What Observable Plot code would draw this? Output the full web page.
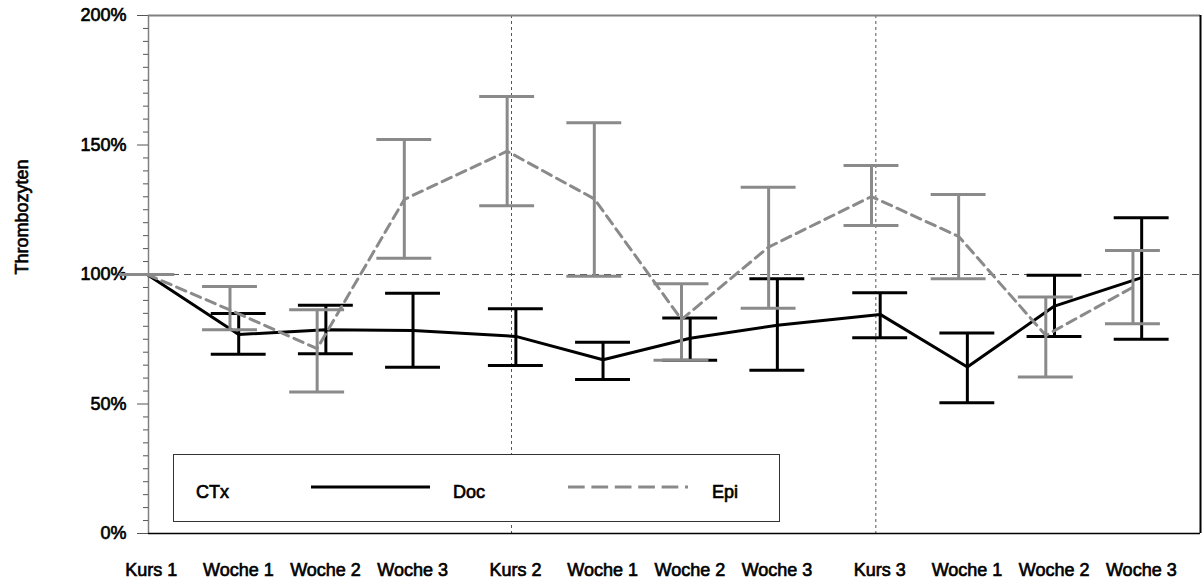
<!DOCTYPE html>
<html><head><meta charset="utf-8">
<script src="https://cdn.jsdelivr.net/npm/d3@7"></script>
<script src="https://cdn.jsdelivr.net/npm/@observablehq/plot@0.6"></script>
<style>
body{margin:0;background:#fff;}
#wrap{position:relative;width:1202px;height:587px;}
#wrap text{font-family:"Liberation Sans",Arial,sans-serif;stroke:#000;stroke-width:0.65px;}
#legend{position:absolute;left:173px;top:454px;}
</style></head><body><div id="wrap"></div>
<script>
// ---- data ----
const categories = ["Kurs 1","Woche 1","Woche 2","Woche 3","Kurs 2","Woche 1","Woche 2","Woche 3","Kurs 3","Woche 1","Woche 2","Woche 3"];
const seriesNames = ["Doc","Epi"];
const legendTitle = "CTx";
const yLabel = "Thrombozyten";
const yTicks = [0, 50, 100, 150, 200];
const docMean = [100, 76.8, 78.7, 78.4, 76.1, 67.1, 75.4, 80.4, 84.6, 64.3, 87.8, 98.8];
const docLow  = [null, 69.2, 69.4, 64.2, 64.9, 59.5, 66.9, 63.0, 75.6, 50.5, 76.1, 75.0];
const docHigh = [null, 84.9, 88.1, 92.8, 86.8, 73.8, 83.2, 98.4, 93.0, 77.4, 99.7, 121.9];
const epiMean = [100, 86.3, 71.4, 129.0, 147.6, 129.2, 82.6, 110.6, 130.1, 114.7, 76.5, 95.1];
const epiLow  = [100, 78.7, 54.6, 106.3, 126.5, 99.3, 66.9, 87.0, 118.9, 98.4, 60.4, 81.0];
const epiHigh = [100, 95.4, 86.4, 152.1, 168.7, 158.6, 96.4, 133.7, 142.1, 130.9, 91.3, 109.3];

// ---- layout helpers ----
const courseGap = 0.18;   // extra space before each new course
const dodge = 0.05;       // horizontal offset of the two series
const capW = 0.315;       // half width of error bar caps (x units)
const courseOf = categories.map((c, i) => categories.slice(0, i + 1).filter(s => s.startsWith("Kurs")).length - 1);
const pos = categories.map((c, i) => i + courseGap * courseOf[i]);
const labelAt = new Map(pos.map((p, i) => [p, categories[i]]));
const kursPos = pos.filter((p, i) => categories[i].startsWith("Kurs") && i > 0);
const xDomain = [0.015, 12.085];
const yDomain = [0, 200];

function rows(name, mean, lo, hi, sign) {
  return categories.map((c, i) => ({
    series: name, cat: c, x: pos[i] + (i === 0 ? 0 : sign * dodge),
    mean: mean[i], lo: lo[i], hi: hi[i]
  }));
}
const doc = rows(seriesNames[0], docMean, docLow, docHigh, 1);
const epi = rows(seriesNames[1], epiMean, epiLow, epiHigh, -1);
const gray = "#8a8a8a";

function bars(data, color) {
  const d = data.filter(r => r.lo != null);
  return [
    Plot.ruleX(d, {x: "x", y1: "lo", y2: "hi", stroke: color, strokeWidth: 3}),
    Plot.ruleY(d, {y: "lo", x1: r => r.x - capW, x2: r => r.x + capW, stroke: color, strokeWidth: 3}),
    Plot.ruleY(d, {y: "hi", x1: r => r.x - capW, x2: r => r.x + capW, stroke: color, strokeWidth: 3})
  ];
}

const minorTicks = d3.range(0, 201, 5).filter(v => v % 50 !== 0);

const chart = Plot.plot({
  width: 1202, height: 587,
  marginLeft: 148, marginRight: 2, marginTop: 15, marginBottom: 54,
  style: {fontFamily: "'Liberation Sans', Arial, sans-serif", fontSize: "18px", color: "#000", background: "#fff"},
  x: {domain: xDomain},
  y: {domain: yDomain},
  marks: [
    Plot.ruleY([100], {stroke: "#555", strokeWidth: 1, strokeDasharray: "7,5"}),
    Plot.ruleX(kursPos, {stroke: "#555", strokeWidth: 1, strokeDasharray: "3,3"}),
    Plot.ruleY([yDomain[1]], {stroke: "#808080", strokeWidth: 2}),
    Plot.ruleX([xDomain[1]], {stroke: "#000", strokeWidth: 2}),
    Plot.ruleX([xDomain[0]], {stroke: "#808080", strokeWidth: 1.5}),
    Plot.ruleY([yDomain[0]], {stroke: "#000", strokeWidth: 1.5}),
    Plot.axisY({ticks: minorTicks, tickSize: 5, tickFormat: () => "", stroke: "#555", label: null}),
    Plot.axisY({ticks: yTicks, tickSize: 11, tickPadding: 11, tickFormat: d => d + "%", stroke: "#555", fontSize: 18, label: null}),
    Plot.axisX({ticks: pos, tickSize: 0, tickPadding: 30, tickFormat: d => labelAt.get(d), fontSize: 18, dx: 4, label: null}),
    Plot.text([yLabel], {frameAnchor: "left", rotate: -90, dx: -126, fontSize: 18}),
    ...bars(doc, "#000"),
    Plot.line(doc, {x: "x", y: "mean", stroke: "#000", strokeWidth: 3}),
    ...bars(epi, gray),
    Plot.line(epi, {x: "x", y: "mean", stroke: gray, strokeWidth: 3, strokeDasharray: "10,6"})
  ]
});
const wrap = document.getElementById("wrap");
wrap.appendChild(chart);

// legend (inside plot area, bottom-left)
const ns = "http://www.w3.org/2000/svg";
const lg = document.createElementNS(ns, "svg");
lg.setAttribute("id", "legend");
lg.setAttribute("width", 608); lg.setAttribute("height", 69);
lg.innerHTML = `
<rect x="0.5" y="0.5" width="606" height="67" fill="#fff" stroke="#333" stroke-width="1"/>
<text x="23" y="43.5" font-size="18">${legendTitle}</text>
<line x1="138" x2="257" y1="33" y2="33" stroke="#000" stroke-width="3"/>
<text x="280" y="43.5" font-size="18">${seriesNames[0]}</text>
<line x1="395" x2="515" y1="33" y2="33" stroke="${gray}" stroke-width="3" stroke-dasharray="16.7,6.7"/>
<text x="539" y="43.5" font-size="18">${seriesNames[1]}</text>`;
wrap.appendChild(lg);
</script></body></html>
